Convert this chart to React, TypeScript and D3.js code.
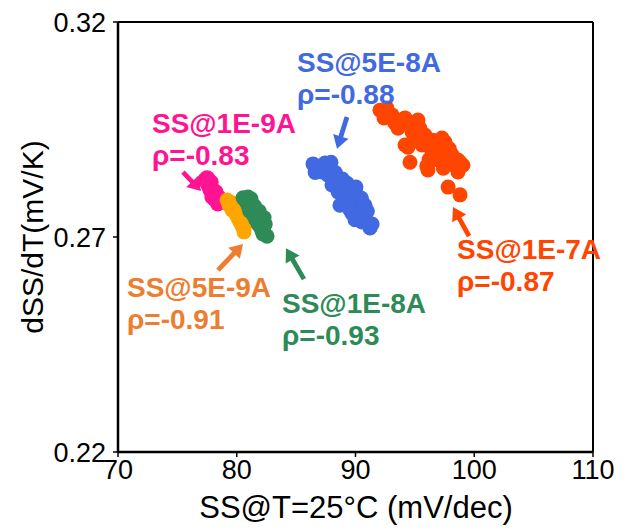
import React from "react";
import * as d3 from "d3";

// ---- data ----
const xTicks = [70, 80, 90, 100, 110];
const yTicks = [0.22, 0.27, 0.32];
const yTickLabels = ["0.22", "0.27", "0.32"];

const pinkX = [77.3, 77.5, 77.6, 77.75, 77.9, 78.0, 78.15, 78.1, 78.35, 78.4, 77.6, 77.85, 78.25, 78.5, 77.9, 77.4, 77.7, 77.95, 78.2, 78.3, 77.5];
const pinkY = [0.2833, 0.2826, 0.2819, 0.2809, 0.2814, 0.2802, 0.2795, 0.2788, 0.2784, 0.2777, 0.2835, 0.2828, 0.2805, 0.2793, 0.2793, 0.283, 0.2822, 0.2808, 0.2798, 0.2788, 0.2838];

const orangeX = [79.18, 79.35, 79.6, 79.77, 79.94, 80.1, 80.27, 80.44, 80.61, 79.43, 79.85, 80.19, 79.68, 80.61, 79.3, 79.55, 79.9, 80.05, 80.35, 80.5, 79.9];
const orangeY = [0.2786, 0.2774, 0.2763, 0.277, 0.2753, 0.2744, 0.2735, 0.2726, 0.2719, 0.2781, 0.2758, 0.2749, 0.2779, 0.2712, 0.278, 0.277, 0.2762, 0.2752, 0.274, 0.273, 0.2773];

const greenX = [80.53, 80.95, 81.12, 81.37, 81.03, 81.54, 81.79, 81.45, 81.96, 82.13, 81.79, 82.29, 82.13, 82.55, 80.86, 81.28, 81.71, 82.21, 80.7, 81.2, 81.5, 81.1, 81.9, 82.3, 81.6, 82.0, 82.4, 82.25];
const greenY = [0.2791, 0.2793, 0.2781, 0.2774, 0.2767, 0.2763, 0.2756, 0.2749, 0.2744, 0.2735, 0.273, 0.2723, 0.2714, 0.2702, 0.2779, 0.2758, 0.274, 0.2707, 0.2786, 0.2789, 0.2772, 0.276, 0.276, 0.2745, 0.274, 0.2722, 0.273, 0.2716];

const blueX = [86.42, 86.84, 87.43, 87.94, 87.18, 87.68, 88.27, 88.02, 88.69, 89.12, 88.53, 89.54, 90.04, 88.95, 89.37, 89.96, 90.38, 90.8, 88.69, 89.54, 90.21, 90.88, 89.96, 90.55, 91.22, 86.6, 87.3, 86.6, 87.6, 88.3, 88.9, 89.3, 89.8, 90.0, 90.5, 90.6, 91.0, 90.3, 91.4, 89.7, 88.9, 89.2];
const blueY = [0.287, 0.286, 0.2872, 0.2874, 0.2851, 0.2844, 0.2837, 0.2821, 0.2826, 0.2814, 0.2805, 0.2809, 0.2816, 0.2791, 0.2781, 0.2786, 0.2791, 0.2774, 0.2774, 0.2763, 0.2758, 0.2756, 0.274, 0.2735, 0.2721, 0.2862, 0.2855, 0.285, 0.286, 0.285, 0.2835, 0.2825, 0.28, 0.2805, 0.279, 0.2765, 0.276, 0.2745, 0.273, 0.2755, 0.2805, 0.279];

const redX = [92.06, 92.65, 93.07, 92.4, 94.17, 95.26, 95.43, 93.58, 94.76, 95.85, 94.42, 95.6, 97.28, 97.54, 96.44, 96.95, 98.13, 97.28, 98.63, 99.05, 94.59, 96.1, 98.63, 97.8, 98.8, 94.17, 93.3, 94.9, 96.5, 97.9, 96.2, 92.5, 93.5, 94.6, 95.0, 95.2, 96.3, 97.0, 96.8, 97.8, 98.4, 97.4, 96.0, 98.8];
const redY = [0.2995, 0.3, 0.2984, 0.2977, 0.2977, 0.2972, 0.2953, 0.2953, 0.2944, 0.2937, 0.2909, 0.2914, 0.293, 0.2921, 0.2898, 0.2891, 0.2891, 0.2874, 0.2879, 0.2867, 0.2874, 0.2856, 0.2851, 0.2816, 0.2798, 0.2914, 0.2965, 0.296, 0.2925, 0.2905, 0.288, 0.299, 0.2968, 0.2966, 0.295, 0.293, 0.291, 0.2905, 0.288, 0.2885, 0.2865, 0.286, 0.2865, 0.2874];

const seriesNames = ["1E-9A", "5E-9A", "1E-8A", "5E-8A", "1E-7A"];
const rhoValues = ["-0.83", "-0.91", "-0.93", "-0.88", "-0.87"];
// label anchor (data units): x, first-line baseline y
const labelX = [72.86, 70.76, 83.81, 85.07, 98.55];
const labelY = [0.2942, 0.256, 0.2523, 0.3084, 0.2649];
// arrows (data units)
const arrowTailX = [75.47, 78.42, 85.66, 89.28, 99.56];
const arrowTailY = [0.2851, 0.2623, 0.2602, 0.2979, 0.2702];
const arrowHeadX = [76.99, 80.53, 84.15, 88.44, 98.21];
const arrowHeadY = [0.2807, 0.2684, 0.2674, 0.2905, 0.277];

const dotColors = ["#FF1493", "#FFA500", "#2E8B57", "#4169E1", "#FF4500"];
const textColors = ["#FF1493", "#ED7D31", "#2E8B57", "#4169E1", "#FF4500"];

const W = 638;
const H = 531;
const left = 118, right = 593, top = 22, bottom = 452;
const FONT = "'Liberation Sans', Arial, sans-serif";

export default function App() {
  const x = d3.scaleLinear().domain([70, 110]).range([left, right]);
  const y = d3.scaleLinear().domain([0.22, 0.32]).range([bottom, top]);

  const series = [
    { xs: pinkX, ys: pinkY },
    { xs: orangeX, ys: orangeY },
    { xs: greenX, ys: greenY },
    { xs: blueX, ys: blueY },
    { xs: redX, ys: redY },
  ];
  const drawOrder = [4, 3, 0, 1, 2];

  const arrowPoly = (tx: number, ty: number, hx: number, hy: number) => {
    const dx = hx - tx, dy = hy - ty;
    const len = Math.hypot(dx, dy);
    const ux = dx / len, uy = dy / len;
    const nx = -uy, ny = ux;
    const L = 13, hw = 8, sw = 2.4;
    const bx = hx - ux * L, by = hy - uy * L;
    const pts = [
      [tx + nx * sw, ty + ny * sw],
      [bx + nx * sw, by + ny * sw],
      [bx + nx * hw, by + ny * hw],
      [hx, hy],
      [bx - nx * hw, by - ny * hw],
      [bx - nx * sw, by - ny * sw],
      [tx - nx * sw, ty - ny * sw],
    ];
    return pts.map((p) => p.join(",")).join(" ");
  };

  return (
    <svg width={W} height={H} style={{ position: "absolute", left: 0, top: 0, background: "#fff" }} fontFamily={FONT}>
      <rect x={0} y={0} width={W} height={H} fill="#fff" />
      {/* dots */}
      {drawOrder.map((si) => (
        <g key={si}>
          {series[si].xs.map((xv, i) => (
            <circle key={i} cx={x(xv)} cy={y(series[si].ys[i])} r={7.5} fill={dotColors[si]} />
          ))}
        </g>
      ))}
      {/* frame */}
      <line x1={left} y1={top} x2={right} y2={top} stroke="#000" strokeWidth={2} />
      <line x1={right} y1={top} x2={right} y2={bottom} stroke="#000" strokeWidth={2} />
      <line x1={left} y1={top} x2={left} y2={bottom} stroke="#000" strokeWidth={2.5} />
      <line x1={left} y1={bottom} x2={right} y2={bottom} stroke="#000" strokeWidth={2.5} />
      {/* x ticks */}
      {xTicks.map((t) => (
        <g key={t}>
          <line x1={x(t)} x2={x(t)} y1={bottom} y2={bottom + 5} stroke="#000" strokeWidth={1.5} />
          <text x={x(t)} y={bottom + 27} textAnchor="middle" fontSize={27} fill="#000">{t}</text>
        </g>
      ))}
      {/* y ticks */}
      {yTicks.map((t, i) => (
        <g key={t}>
          <line x1={left - 5} x2={left} y1={y(t)} y2={y(t)} stroke="#000" strokeWidth={1.5} />
          <text x={left - 12} y={y(t) + 10} textAnchor="end" fontSize={27} fill="#000">{yTickLabels[i]}</text>
        </g>
      ))}
      {/* axis titles */}
      <text x={356} y={518} textAnchor="middle" fontSize={31} fill="#000">SS@T=25°C (mV/dec)</text>
      <text transform={`translate(43,237) rotate(-90)`} textAnchor="middle" fontSize={30} fill="#000">dSS/dT(mV/K)</text>
      {/* arrows */}
      {seriesNames.map((_, i) => (
        <polygon key={i} points={arrowPoly(x(arrowTailX[i]), y(arrowTailY[i]), x(arrowHeadX[i]), y(arrowHeadY[i]))} fill={textColors[i]} />
      ))}
      {/* labels */}
      {seriesNames.map((n, i) => (
        <text key={i} x={x(labelX[i])} y={y(labelY[i])} fontSize={28} fontWeight="bold" fill={textColors[i]}>
          <tspan x={x(labelX[i])}>{`SS@${n}`}</tspan>
          <tspan x={x(labelX[i])} dy={32}>{`ρ=${rhoValues[i]}`}</tspan>
        </text>
      ))}
    </svg>
  );
}
